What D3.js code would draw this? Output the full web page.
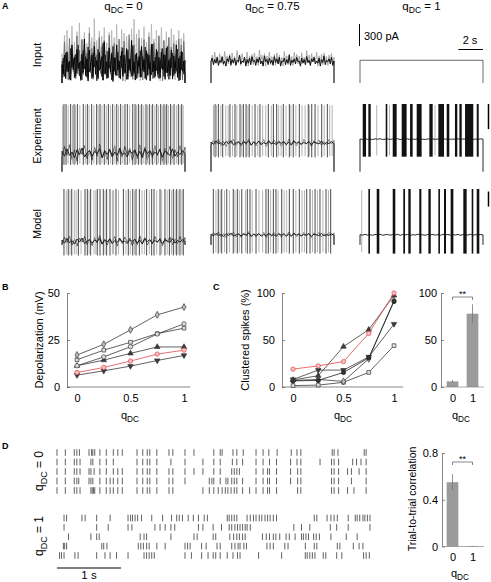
<!DOCTYPE html>
<html><head><meta charset="utf-8">
<script src="https://cdn.jsdelivr.net/npm/d3@7"></script>
<style>
body{margin:0;background:#fff}
svg{display:block}
text{font-family:'Liberation Sans',Arial,Helvetica,sans-serif;fill:#000}
</style>
</head><body>
<svg id="chart" width="491" height="582"></svg>
<script>
// ---------------- DATA ----------------
const qTitles = ["0", "0.75", "1"];
const rowLabels = ["Input", "Experiment", "Model"];
const traceTime = [0, 10]; // seconds

// Input currents (pA), qDC = 0: overlaid trials
const inputDark0 = [250,120,380,60,420,150,300,40,520,180,350,90,460,200,280,50,390,140,600,100,330,30,450,170,380,80,500,120,310,60,420,190,360,40,560,130,290,70,480,150,400,20,350,110,520,180,300,60,430,90,380,140,470,50,330,160,580,100,290,40,410,130,360,80,500,170,320,60,440,110,380,30,530,150,300,90,460,120,350,70,420,180,390,50,480,140,310,100,450,60,370,130,520,80,340,40,430,160,300,110];
const inputDark0b = [180,340,90,410,160,280,50,470,210,330,70,390,130,520,100,300,40,440,190,360,80,490,150,270,60,410,220,350,30,460,170,310,90,540,120,380,60,430,200,290,40,500,160,340,100,420,70,370,210,480,130,260,50,450,180,330,90,510,140,390,60,300,230,440,80,360,150,490,40,400,190,280,110,530,70,350,170,430,60,320,200,470,90,380,140,500,50,340,210,410,100,290,160,460,30,370,180,420,120,310];
const inputMid0 = [300,80,560,150,430,40,610,120,480,210,380,60,640,170,450,30,590,110,520,190,410,70,680,140,470,50,560,200,390,90,620,130,500,40,580,180,440,80,650,120,420,60,540,210,380,100,600,150,490,30,570,170,430,90,660,130,460,50,520,200,400,70,610,140,480,40,590,180,420,100,630,120,500,60,550,190,410,80,640,150,470,30,580,160,450,90,620,110,490,50,540,200,400,70,600,130,520,40,570,180];
const inputLight0 = [400,100,650,80,720,200,500,30,780,150,560,60,700,120,820,40,600,180,690,90,540,20,760,140,620,70,880,110,580,50,710,160,640,30,760,100,550,60,690,130,720,40,620,90,800,150,570,50,730,110,680,20,640,160,590,80,740,120,870,60,670,100,730,30,610,150,770,70,560,90,690,40,800,140,600,60,720,110,650,30,760,120,580,80,700,160,620,50,740,100,660,40,580,90,720,130,610,60,680,100];
// qDC = 0.75
const input075a = [290,340,250,320,270,350,240,310,280,360,260,300,230,330,290,370,250,320,270,340,240,310,290,380,260,300,280,350,230,320,270,340,250,360,290,310,240,330,280,350,260,300,230,370,290,320,250,340,270,310,240,360,280,330,260,350,230,300,290,340,250,320,270,380,240,310,280,330,260,350,290,300,230,340,270,320,250,360,280,310,240,330,290,350,260,300,270,340,230,320,280,370,250,310,290,330,260,350,240,300];
const input075b = [300,380,260,420,280,360,250,400,270,350,240,430,290,370,260,390,230,410,280,360,250,440,270,380,240,400,290,350,260,420,230,370,280,390,250,410,270,360,240,450,290,380,260,400,230,370,280,420,250,360,270,390,240,410,290,380,260,350,230,430,280,370,250,400,270,360,240,420,290,390,260,370,230,410,280,350,250,440,270,380,240,400,290,360,260,420,230,370,280,390,250,410,270,360,240,380,290,400,260,350];
// qDC = 1 (constant)
const input1 = [310, 310];

// Membrane potential levels (mV) per column [qDC=0, 0.75, 1]
const expBase = [-48, -32, -26];
const modelBase = [-53, -43, -43];
const expRest = -78, modelRest = -59;
const expTrough = [-67, -55, -54];
const modelTrough = [-76, -73, -73];
const spikePeak = 30;

// Baseline fluctuations (mV)
const noiseA = [2,-4,5,-3,1,-6,4,-2,6,-5,0,3,-4,2,-1,5,-6,3,-2,4,-5,1,-3,6,-2,0,-5,3,-1,4,-4,2,-6,5,-1,3,-3,1,-2,4,-5,2,0,-3,5,-4,1,-2,3,-1];
const noiseB = [-6,8,-3,10,-8,4,-10,6,-2,9,-7,3,-9,7,-4,11,-6,2,-8,5,-3,9,-10,4,-5,8,-2,6,-9,3,-7,10,-4,7,-8,2,-6,9,-3,5,-10,6,-2,8,-7,4,-5,9,-3,7];

// Spike times (s)
const expSpikesDark0 = [0.16,0.33,0.70,0.98,1.25,1.73,2.06,2.41,2.82,3.09,3.44,3.77,4.12,4.45,4.77,5.12,5.31,5.75,5.94,6.21,6.48,6.83,7.10,7.37,7.70,8.02,8.29,8.51,8.83,9.11,9.46,9.73];
const expSpikesLight0 = [0.05,0.50,0.85,1.10,1.45,1.90,2.20,2.60,2.95,3.25,3.60,3.95,4.30,4.60,4.95,5.50,6.05,6.35,6.65,6.95,7.25,7.55,7.85,8.15,8.40,8.65,8.95,9.30,9.60,9.85];
const expSpikesDark075 = [0.33,0.60,0.95,1.54,1.95,2.36,2.63,2.85,3.11,3.58,3.98,4.66,5.07,5.34,5.88,6.37,6.69,7.18,7.91,8.19,8.46,9.00,9.46];
const expSpikesLight075 = [0.20,0.45,0.80,1.20,1.40,1.75,2.10,2.50,3.00,3.35,3.80,4.20,4.45,4.90,5.50,5.70,6.10,6.50,6.90,7.40,7.65,8.00,8.70,9.20,9.65,9.85];
const expBursts1 = [[0.22,0.49],[0.68,0.87],[2.09,2.22],[2.66,2.98],[3.39,3.79],[4.07,4.28],[4.61,5.01],[5.64,5.91],[6.37,6.83],[7.05,7.26],[7.72,7.91],[8.08,8.27],[8.54,9.21],[9.49,9.65]];
const expSpikesLight1 = [1.36,2.40,2.80,6.10];
const modelSpikesDark0 = [0.16,0.51,0.79,1.33,1.87,2.06,2.33,2.87,3.09,3.36,3.63,3.90,4.39,4.99,5.39,5.75,6.02,6.29,6.88,7.29,7.48,7.97,8.37,8.73,9.05,9.32,9.59,9.86];
const modelSpikesLight0 = [0.35,0.65,1.00,1.15,1.55,2.20,2.60,2.75,3.50,4.10,4.20,4.60,5.20,5.55,5.90,6.50,6.70,7.10,7.70,8.10,8.55,8.90,9.20,9.45,9.75];
const modelSpikesDark075 = [0.19,0.59,0.87,1.28,1.81,2.14,2.50,2.95,3.17,3.66,4.47,4.66,5.07,5.28,5.75,6.37,6.69,7.18,7.78,8.05,8.46,8.86,9.35,9.73];
const modelSpikesLight075 = [0.40,0.75,1.10,1.50,1.95,2.30,2.80,3.35,3.90,4.20,4.85,5.45,5.95,6.15,6.90,7.40,7.60,8.25,8.65,9.10,9.55];
const modelBursts1 = [[0.68,0.81],[1.36,1.57],[2.66,2.87],[3.52,3.66],[3.93,4.12],[4.82,4.99],[5.56,5.75],[6.37,6.50],[6.83,6.99],[7.37,7.59],[8.40,8.67],[9.08,9.21],[9.49,9.70]];
const modelSpikesLight1 = [0.14];

// Panel B: depolarization (mV) vs qDC
const qdc = [0, 0.25, 0.5, 0.75, 1];
const depolDiamond = [17, 22.7, 30.4, 38.4, 42.5];
const depolCircle = [11.3, 16, 21.4, 28.2, 33.6];
const depolSquare = [14.5, 19.6, 23.8, 28.4, 31.3];
const depolTriUp = [11.3, 14.3, 17.9, 21.3, 21.3];
const depolRed = [7.7, 10.4, 13.8, 17.5, 19.6];
const depolTriDown = [6.3, 8.6, 11.1, 14.1, 16.8];

// Panel C: clustered spikes (%)
const clustRed = [19, 22.5, 27, 57, 100];
const clustTriUp = [7.5, 12, 43, 61, 97.5];
const clustTriDown = [8, 18, 18, 32, 67];
const clustCircle = [6.5, 7, 15.5, 31, 91];
const clustDiamond = [7, 8, 6, 30, 92];
const clustSquare = [1.5, 2, 5, 15.5, 44];
const barCats = ["0", "1"];
const clustMean = [6, 78];
const clustErr = [1.5, 10];

// Panel D: raster (s) and correlation
const rasterQ0 = [
 [0.00,0.13,0.27,0.31,0.35,0.50,0.54,0.56,0.59,0.67,0.77,0.88,0.95,1.02,1.25,1.34,1.41,1.45,1.56,1.75,1.81,2.00,2.14,2.45,2.55,2.58,2.75,2.81,2.91,3.11,3.22,3.31,3.44,3.66,3.75,3.81,4.30,4.33,4.39,4.80,4.83],
 [0.00,0.13,0.27,0.31,0.36,0.53,0.56,0.67,0.77,0.88,1.25,1.34,1.41,1.45,1.56,1.78,2.00,2.28,2.45,2.55,2.74,2.81,2.90,3.11,3.22,3.32,3.43,3.65,3.75,3.81,4.11,4.29,4.33,4.40,4.62,4.68,4.75,4.83],
 [0.00,0.13,0.27,0.31,0.36,0.50,0.53,0.58,0.67,0.77,0.88,0.95,1.02,1.25,1.34,1.41,1.45,1.56,1.75,1.81,2.00,2.14,2.28,2.45,2.55,2.73,2.77,2.81,2.85,3.11,3.22,3.29,3.32,3.43,3.65,3.76,3.81,4.29,4.33,4.40,4.54,4.60,4.72,4.83],
 [0.00,0.13,0.27,0.31,0.34,0.50,0.53,0.56,0.67,0.77,0.83,0.88,0.95,1.02,1.25,1.34,1.41,1.45,1.56,1.75,1.81,2.00,2.38,2.42,2.45,2.55,2.64,2.67,2.73,2.77,2.81,2.90,3.11,3.22,3.29,3.32,3.43,3.65,3.76,3.81,4.29,4.33,4.40,4.60,4.83],
 [0.00,0.13,0.27,0.31,0.36,0.53,0.55,0.57,0.59,0.67,0.77,0.83,0.88,0.95,1.02,1.25,1.34,1.41,1.45,1.56,1.75,1.81,2.28,2.38,2.45,2.52,2.58,2.63,2.67,2.72,2.77,2.81,2.90,3.01,3.11,3.22,3.29,3.32,3.43,3.76,3.81,4.29,4.33,4.40,4.54,4.64,4.83]
];
const rasterQ1 = [
 [0.11,0.15,0.39,0.44,0.62,0.83,1.11,1.15,1.18,1.22,1.26,1.32,1.48,1.65,1.79,1.87,1.91,1.96,2.05,2.13,2.21,2.30,2.35,2.66,2.69,2.73,2.77,2.81,2.97,3.02,3.07,3.11,3.16,3.20,3.25,3.29,3.33,3.38,3.43,4.02,4.06,4.22,4.28,4.33,4.38,4.55,4.66,4.69,4.73,4.78,4.81,4.85,4.89],
 [0.11,0.62,0.80,1.11,1.17,1.53,1.61,1.69,1.78,1.84,2.21,2.28,2.44,2.57,2.69,2.73,2.78,2.82,2.86,2.90,2.94,2.97,3.02,3.70,3.82,3.95,4.27,4.37,4.55,4.89],
 [0.18,0.53,0.62,0.66,1.30,1.36,1.40,1.78,2.14,2.19,2.44,2.48,2.70,2.76,2.81,2.85,2.90,2.94,3.21,3.27,3.32,3.38,3.42,3.48,3.58,3.63,3.72,3.82,3.85,3.89,3.93,4.01,4.05,4.10,4.28,4.52,4.69],
 [0.10,0.12,0.15,0.70,0.73,0.78,1.27,1.31,1.35,1.40,1.44,1.56,1.69,2.00,2.04,2.08,2.26,2.33,2.50,2.55,2.73,2.78,2.83,2.86,2.92,2.96,3.28,3.33,3.38,3.56,3.61,3.88,4.02,4.06,4.38,4.42,4.63,4.72,4.78],
 [0.04,0.07,0.11,0.28,0.33,0.62,0.75,0.83,0.93,1.11,1.36,1.40,1.44,1.48,1.52,2.00,2.10,2.26,2.36,2.44,2.48,2.55,2.66,2.75,2.82,2.86,3.15,3.51,3.88,3.91,3.95,3.99,4.03,4.16,4.20,4.37,4.45,4.79,4.83,4.88]
];
const corrMean = [0.55, 0.004];
const corrErr = [0.07, 0.002];

// ---------------- DRAWING ----------------
const svg = d3.select("#chart");
svg.append("rect").attr("width", 491).attr("height", 582).attr("fill", "#fff");
const line = d3.line();

function qText(t, val, fs) {
  t.append("tspan").text("q");
  t.append("tspan").attr("font-size", fs * 0.75).attr("dy", fs * 0.3).text("DC");
  if (val !== null) t.append("tspan").attr("dy", -fs * 0.3).text(" = " + val);
  return t;
}
function letter(txt, x, y) {
  svg.append("text").attr("x", x).attr("y", y).attr("font-size", 9).attr("font-weight", "bold").text(txt);
}

// ----- Panel A -----
letter("A", 2, 9);
const gA = svg.append("g");
const colLeft = [62, 211, 360];
const xs = colLeft.map(l => d3.scaleLinear().domain(traceTime).range([l, l + 123]));
const yI = d3.scaleLinear().domain([0, 900]).range([83, 17]);
const yE = d3.scaleLinear().domain([-80, 30]).range([173, 104]);
const yM = d3.scaleLinear().domain([-80, 30]).range([258, 189]);
const tAt = (i, n) => traceTime[0] + i * (traceTime[1] - traceTime[0]) / (n - 1);

qTitles.forEach((q, c) => {
  const cx = (xs[c].range()[0] + xs[c].range()[1]) / 2;
  qText(gA.append("text").attr("x", cx).attr("y", 10).attr("text-anchor", "middle").attr("font-size", 11.5), q, 11.5);
});
const rowY = [55, 136, 224];
rowLabels.forEach((r, i) => {
  gA.append("text").attr("transform", `translate(41,${rowY[i]}) rotate(-90)`)
    .attr("text-anchor", "middle").attr("font-size", 11).text(r);
});

function inputPath(c, arr, color, w) {
  const x = xs[c];
  const pts = [[x(0), yI(0)], ...arr.map((v, i) => [x(tAt(i, arr.length)), yI(v)]), [x(10), yI(0)]];
  gA.append("path").attr("d", line(pts)).attr("fill", "none").attr("stroke", color).attr("stroke-width", w).attr("stroke-linejoin", "round");
}
inputPath(0, inputLight0, "#b0b0b0", 0.8);
inputPath(0, inputMid0, "#6a6a6a", 0.8);
inputPath(0, inputDark0b, "#222", 0.9);
inputPath(0, inputDark0, "#000", 0.9);
inputPath(1, input075b, "#9a9a9a", 0.8);
inputPath(1, input075a, "#111", 1.0);
inputPath(2, input1, "#444", 0.8);

function trace(c, y, base, rest, trough, gain, noiseD, noiseL, spD, spL, bursts, lightCol) {
  const g = gA.append("g");
  const x = xs[c];
  const bp = (arr, k) => [[x(0), y(rest)], ...arr.map((v, i) => [x(tAt(i, arr.length)), y(base + k * v)]), [x(10), y(rest)]];
  if (noiseL) g.append("path").attr("d", line(bp(noiseL, gain))).attr("fill", "none").attr("stroke", lightCol || "#909090").attr("stroke-width", 0.9);
  g.selectAll(null).data(spL || []).join("line")
    .attr("x1", d => x(d)).attr("x2", d => x(d))
    .attr("y1", y(spikePeak - 2)).attr("y2", y(trough + 2))
    .attr("stroke", "#a0a0a0").attr("stroke-width", 0.8);
  g.append("path").attr("d", line(bp(noiseD, gain))).attr("fill", "none").attr("stroke", "#111").attr("stroke-width", 0.9);
  g.selectAll(null).data(spD || []).join("line")
    .attr("x1", d => x(d)).attr("x2", d => x(d))
    .attr("y1", y(spikePeak)).attr("y2", y(trough))
    .attr("stroke", "#1a1a1a").attr("stroke-width", 0.8);
  g.selectAll(null).data(bursts || []).join("rect")
    .attr("x", d => x(d[0])).attr("width", d => Math.max(1.3, x(d[1]) - x(d[0])))
    .attr("y", y(spikePeak)).attr("height", y(trough) - y(spikePeak))
    .attr("fill", "#111");
}
trace(0, yE, expBase[0], expRest, expTrough[0], 1.3, noiseA, noiseB, expSpikesDark0, expSpikesLight0, null, "#555");
trace(1, yE, expBase[1], expRest, expTrough[1], 0.6, noiseA, noiseB, expSpikesDark075, expSpikesLight075, null, "#777");
trace(2, yE, expBase[2], expRest, expTrough[2], 0.12, noiseA, null, null, expSpikesLight1, expBursts1);
trace(0, yM, modelBase[0], modelRest, modelTrough[0], 0.8, noiseA, noiseB, modelSpikesDark0, modelSpikesLight0, null, "#555");
trace(1, yM, modelBase[1], modelRest, modelTrough[1], 0.45, noiseA, noiseB, modelSpikesDark075, modelSpikesLight075, null, "#777");
trace(2, yM, modelBase[2], modelRest, modelTrough[2], 0.15, noiseA, null, null, modelSpikesLight1, modelBursts1);

// scale bars
const sbX = 359.5, sbTop = 24;
gA.append("line").attr("x1", sbX).attr("x2", sbX).attr("y1", sbTop).attr("y2", sbTop + (yI(0) - yI(300))).attr("stroke", "#000").attr("stroke-width", 1);
gA.append("text").attr("x", 364).attr("y", 40).attr("font-size", 11).text("300 pA");
gA.append("line").attr("x1", xs[2](10) - (xs[2](2) - xs[2](0))).attr("x2", xs[2](10)).attr("y1", 49.5).attr("y2", 49.5).attr("stroke", "#000").attr("stroke-width", 1);
gA.append("text").attr("x", 470).attr("y", 44).attr("text-anchor", "middle").attr("font-size", 11).text("2 s");
gA.append("line").attr("x1", 488.5).attr("x2", 488.5).attr("y1", yE(30)).attr("y2", yE(-10)).attr("stroke", "#000").attr("stroke-width", 1.5);
gA.append("line").attr("x1", 488.5).attr("x2", 488.5).attr("y1", yM(26)).attr("y2", yM(2)).attr("stroke", "#000").attr("stroke-width", 1.5);

// ----- shared axis styling -----
function styleAxis(g) {
  g.selectAll("path.domain").attr("stroke", "#555").attr("stroke-width", 0.7);
  g.selectAll(".tick line").attr("stroke", "#555").attr("stroke-width", 0.7);
  g.selectAll(".tick text").attr("font-size", 11).attr("font-family", "'Liberation Sans',Arial,sans-serif").attr("fill", "#000");
}

// ----- Panel B -----
letter("B", 2, 290);
const gB = svg.append("g");
const xB = d3.scaleLinear().domain([0, 1]).range([77, 184]);
const yB = d3.scaleLinear().domain([0, 50]).range([387, 293]);
gB.append("g").attr("transform", "translate(67,0)")
  .call(d3.axisLeft(yB).tickValues([0, 25, 50]).tickSize(-3).tickSizeOuter(0).tickPadding(7)).call(styleAxis);
gB.append("line").attr("x1", 67).attr("x2", xB(1.06)).attr("y1", 387).attr("y2", 387).attr("stroke", "#555").attr("stroke-width", 0.7);
const axB = gB.append("g").attr("transform", "translate(0,387)")
  .call(d3.axisBottom(xB).tickValues([0, 0.5, 1]).tickFormat(d3.format("")).tickSize(0).tickPadding(7));
axB.select(".domain").remove(); styleAxis(axB);
gB.append("text").attr("transform", "translate(43,340) rotate(-90)").attr("text-anchor", "middle").attr("font-size", 11).text("Depolarization (mV)");
qText(gB.append("text").attr("x", 130).attr("y", 419).attr("text-anchor", "middle").attr("font-size", 11), null, 11);

const triDown = "rotate(180)";
function series(g, xSc, ySc, vals, sym, stroke, fill, size, rot) {
  g.append("path").attr("d", line(vals.map((v, i) => [xSc(qdc[i]), ySc(v)])))
    .attr("fill", "none").attr("stroke", stroke).attr("stroke-width", 0.8);
  g.selectAll(null).data(vals).join("path")
    .attr("d", d3.symbol().type(sym).size(size))
    .attr("transform", (v, i) => `translate(${xSc(qdc[i])},${ySc(v)})` + (rot ? " " + rot : ""))
    .attr("fill", fill).attr("stroke", stroke).attr("stroke-width", 0.7);
}
const dark = "#3a3a3a", red = "#e2474c";
series(gB, xB, yB, depolTriDown, d3.symbolTriangle, dark, dark, 13, triDown);
series(gB, xB, yB, depolTriUp, d3.symbolTriangle, dark, dark, 13, null);
series(gB, xB, yB, depolRed, d3.symbolCircle, red, "#f3c0c2", 15, null);
series(gB, xB, yB, depolSquare, d3.symbolSquare, dark, "#ddd", 14, null);
series(gB, xB, yB, depolCircle, d3.symbolCircle, dark, "#ddd", 15, null);
series(gB, xB, yB, depolDiamond, d3.symbolDiamond, dark, "#bbb", 14, null);

// ----- Panel C -----
letter("C", 213, 290);
const gC = svg.append("g");
const xC = d3.scaleLinear().domain([0, 1]).range([293, 394]);
const yC = d3.scaleLinear().domain([0, 100]).range([387, 293]);
gC.append("g").attr("transform", "translate(282,0)")
  .call(d3.axisLeft(yC).tickValues([0, 50, 100]).tickSize(-3).tickSizeOuter(0).tickPadding(7)).call(styleAxis);
gC.append("line").attr("x1", 282).attr("x2", xC(1.09)).attr("y1", 387).attr("y2", 387).attr("stroke", "#555").attr("stroke-width", 0.7);
const axC = gC.append("g").attr("transform", "translate(0,387)")
  .call(d3.axisBottom(xC).tickValues([0, 0.5, 1]).tickFormat(d3.format("")).tickSize(0).tickPadding(7));
axC.select(".domain").remove(); styleAxis(axC);
gC.append("text").attr("transform", "translate(249,340) rotate(-90)").attr("text-anchor", "middle").attr("font-size", 11).text("Clustered spikes (%)");
qText(gC.append("text").attr("x", 343).attr("y", 419).attr("text-anchor", "middle").attr("font-size", 11), null, 11);
series(gC, xC, yC, clustSquare, d3.symbolSquare, dark, "#ddd", 14, null);
series(gC, xC, yC, clustDiamond, d3.symbolDiamond, dark, "#bbb", 14, null);
series(gC, xC, yC, clustTriDown, d3.symbolTriangle, dark, dark, 13, triDown);
series(gC, xC, yC, clustCircle, d3.symbolCircle, "#222", "#333", 15, null);
series(gC, xC, yC, clustTriUp, d3.symbolTriangle, dark, dark, 13, null);
series(gC, xC, yC, clustRed, d3.symbolCircle, red, "#f3c0c2", 15, null);

// bar plots (C right, D right)
function barPlot(g, axisX, ySc, ticks, fmt, means, errs, baseY) {
  const xb = d3.scalePoint().domain(barCats).range([452.5, 472.5]);
  const bw = 11.7;
  g.append("g").attr("transform", `translate(${axisX},0)`)
    .call(d3.axisLeft(ySc).tickValues(ticks).tickFormat(fmt).tickSize(-3).tickSizeOuter(0).tickPadding(4)).call(styleAxis);
  g.selectAll(null).data(means).join("rect")
    .attr("x", (d, i) => xb(barCats[i]) - bw / 2).attr("width", bw)
    .attr("y", d => ySc(d)).attr("height", d => ySc(0) - ySc(d))
    .attr("fill", "#9b9b9b");
  g.selectAll(null).data(means).join("line")
    .attr("x1", (d, i) => xb(barCats[i])).attr("x2", (d, i) => xb(barCats[i]))
    .attr("y1", (d, i) => ySc(d + errs[i])).attr("y2", (d, i) => ySc(d - errs[i]))
    .attr("stroke", "#777").attr("stroke-width", 0.8);
  g.append("line").attr("x1", axisX).attr("x2", 484).attr("y1", ySc(0)).attr("y2", ySc(0)).attr("stroke", "#777").attr("stroke-width", 0.6);
  const ax = g.append("g").attr("transform", `translate(0,${ySc(0)})`)
    .call(d3.axisBottom(xb).tickSize(0).tickPadding(7));
  ax.select(".domain").remove(); styleAxis(ax);
  const by = baseY;
  g.append("path").attr("d", line([[xb("0"), by + 3], [xb("0"), by], [xb("1"), by], [xb("1"), by + 3]]))
    .attr("fill", "none").attr("stroke", "#555").attr("stroke-width", 0.7);
  g.append("text").attr("x", (xb("0") + xb("1")) / 2).attr("y", by - 0.5).attr("text-anchor", "middle").attr("font-size", 9).text("**");
  return xb;
}
const yCb = d3.scaleLinear().domain([0, 100]).range([387, 293]);
barPlot(svg.append("g"), 441, yCb, [0, 50, 100], d3.format(""), clustMean, clustErr, 297);
qText(svg.append("text").attr("x", 461).attr("y", 419).attr("text-anchor", "middle").attr("font-size", 11), null, 11);

// ----- Panel D -----
letter("D", 2, 449);
const gD = svg.append("g");
const xR = d3.scaleLinear().domain([0, 1]).range([57, 121]);
const yR0 = d3.scalePoint().domain(d3.range(rasterQ0.length)).range([452.5, 490.5]);
const yR1 = d3.scalePoint().domain(d3.range(rasterQ1.length)).range([518, 555.5]);
function raster(rows, ySc) {
  rows.forEach((row, r) => {
    gD.selectAll(null).data(row).join("line")
      .attr("x1", d => xR(d)).attr("x2", d => xR(d))
      .attr("y1", ySc(r) - 3.3).attr("y2", ySc(r) + 3.3)
      .attr("stroke", "#444").attr("stroke-width", 0.85);
  });
}
raster(rasterQ0, yR0);
raster(rasterQ1, yR1);
qText(gD.append("text").attr("transform", "translate(43,471) rotate(-90)").attr("text-anchor", "middle").attr("font-size", 12), "0", 12);
qText(gD.append("text").attr("transform", "translate(43,536) rotate(-90)").attr("text-anchor", "middle").attr("font-size", 12), "1", 12);
gD.append("line").attr("x1", xR(0)).attr("x2", xR(1)).attr("y1", 568).attr("y2", 568).attr("stroke", "#000").attr("stroke-width", 1);
gD.append("text").attr("x", (xR(0) + xR(1)) / 2).attr("y", 578.5).attr("text-anchor", "middle").attr("font-size", 11.5).text("1 s");

const yDb = d3.scaleLinear().domain([0, 0.8]).range([546.5, 453]);
barPlot(svg.append("g"), 442, yDb, [0, 0.4, 0.8], d => d === 0 ? "0" : d3.format(".1f")(d), corrMean, corrErr, 462);
svg.append("text").attr("transform", "translate(416,499) rotate(-90)").attr("text-anchor", "middle").attr("font-size", 10.5).text("Trial-to-trial correlation");
qText(svg.append("text").attr("x", 460).attr("y", 577).attr("text-anchor", "middle").attr("font-size", 11), null, 11);
</script>
</body></html>
